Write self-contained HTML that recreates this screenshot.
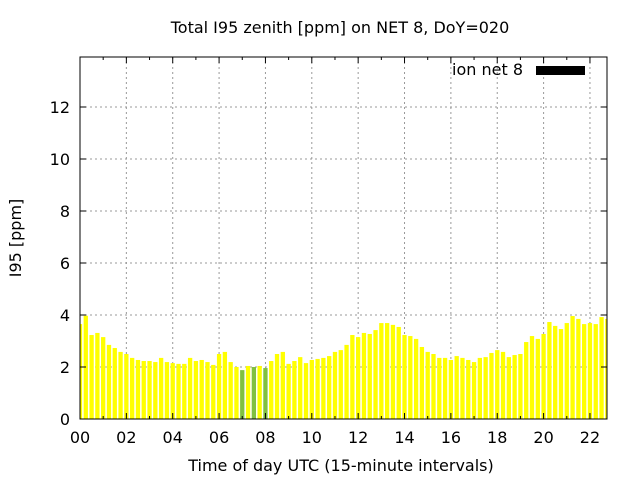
<!DOCTYPE html>
<html><head><meta charset="utf-8"><style>
body{margin:0;background:#fff;}
svg{display:block;font-family:"DejaVu Sans","Liberation Sans",sans-serif;}
</style></head><body>
<svg id="chart" width="640" height="480">
<defs><clipPath id="pc"><rect x="80" y="57" width="527" height="362"/></clipPath></defs>
<text x="340" y="33" text-anchor="middle" font-size="16">Total I95 zenith [ppm] on NET 8, DoY=020</text>
<text x="341" y="471" text-anchor="middle" font-size="16">Time of day UTC (15-minute intervals)</text>
<text transform="translate(21,238) rotate(-90)" text-anchor="middle" font-size="16">I95 [ppm]</text>
<g id="grid"></g>
<g id="bars" clip-path="url(#pc)"></g>
<g id="ticks"></g>
<rect x="80" y="57" width="527" height="362" fill="none" stroke="#000" stroke-width="1"/>
<g>
<text x="523" y="75" text-anchor="end" font-size="16">ion net 8</text>
<rect x="536" y="66" width="49" height="9" fill="#000"/>
</g>
</svg>
<script>
const values=[3.65,3.97,3.23,3.31,3.15,2.85,2.73,2.58,2.5,2.35,2.27,2.23,2.23,2.19,2.35,2.19,2.15,2.12,2.12,2.35,2.23,2.27,2.19,2.08,2.5,2.58,2.19,2.0,1.88,2.04,2.0,2.04,1.96,2.23,2.5,2.58,2.12,2.23,2.38,2.15,2.27,2.31,2.35,2.42,2.58,2.65,2.85,3.23,3.15,3.31,3.27,3.42,3.69,3.69,3.62,3.54,3.23,3.19,3.08,2.77,2.58,2.5,2.35,2.35,2.27,2.42,2.35,2.27,2.19,2.35,2.38,2.54,2.65,2.58,2.38,2.46,2.5,2.96,3.19,3.08,3.27,3.73,3.58,3.46,3.69,3.96,3.85,3.65,3.69,3.65,3.92,3.85];
const flagged=[28,30,32];
const yTicks=[0,2,4,6,8,10,12];
const xTicks=[0,2,4,6,8,10,12,14,16,18,20,22];
const xTickLabels=["00","02","04","06","08","10","12","14","16","18","20","22"];
const NS="http://www.w3.org/2000/svg";
const X0=80,X1=607,Y0=419,Y1=57;
const xs=h=>X0+h*23.18;
const ys=v=>Y0-v*26;
function mk(t,a,p){const e=document.createElementNS(NS,t);for(const k in a)e.setAttribute(k,a[k]);p.appendChild(e);return e;}
const grid=document.getElementById('grid'),bars=document.getElementById('bars'),ticks=document.getElementById('ticks');
yTicks.forEach(v=>{
 const y=ys(v);
 if(v>0){const g=mk('line',{x1:X0,x2:X1,y1:y,y2:y,stroke:'#999','stroke-dasharray':'2,3'},grid);
 
 }
 mk('line',{x1:X0,x2:X0+6,y1:y,y2:y,stroke:'#000'},ticks);
 mk('line',{x1:X1,x2:X1-6,y1:y,y2:y,stroke:'#000'},ticks);
 const t=mk('text',{x:X0-10,y:y+6,'text-anchor':'end','font-size':'16'},ticks);t.textContent=v;
 
 
});
xTicks.forEach((h,i)=>{
 const x=xs(h);
 if(h>0){const g=mk('line',{x1:x,x2:x,y1:Y1,y2:Y0,stroke:'#999','stroke-dasharray':'2,3'},grid);
 
 }
 mk('line',{x1:x,x2:x,y1:Y0,y2:Y0-6,stroke:'#000'},ticks);
 mk('line',{x1:x,x2:x,y1:Y1,y2:Y1+6,stroke:'#000'},ticks);
 const t=mk('text',{x:x,y:Y0+24,'text-anchor':'middle','font-size':'16'},ticks);t.textContent=xTickLabels[i];
 
 
});
for(let h=1;h<23;h+=2){const x=xs(h);
 mk('line',{x1:x,x2:x,y1:Y0,y2:Y0-3,stroke:'#000'},ticks);
 mk('line',{x1:x,x2:x,y1:Y1,y2:Y1+3,stroke:'#000'},ticks);}
const bw=4.3;
values.forEach((v,i)=>{
 const cx=xs(i*0.25);
 const r=mk('rect',{x:cx-bw/2,y:ys(v),width:bw,height:Y0-ys(v),fill:flagged.includes(i)?'#80c040':'#ffff00'},bars);
 
 
});
</script>
</body></html>
